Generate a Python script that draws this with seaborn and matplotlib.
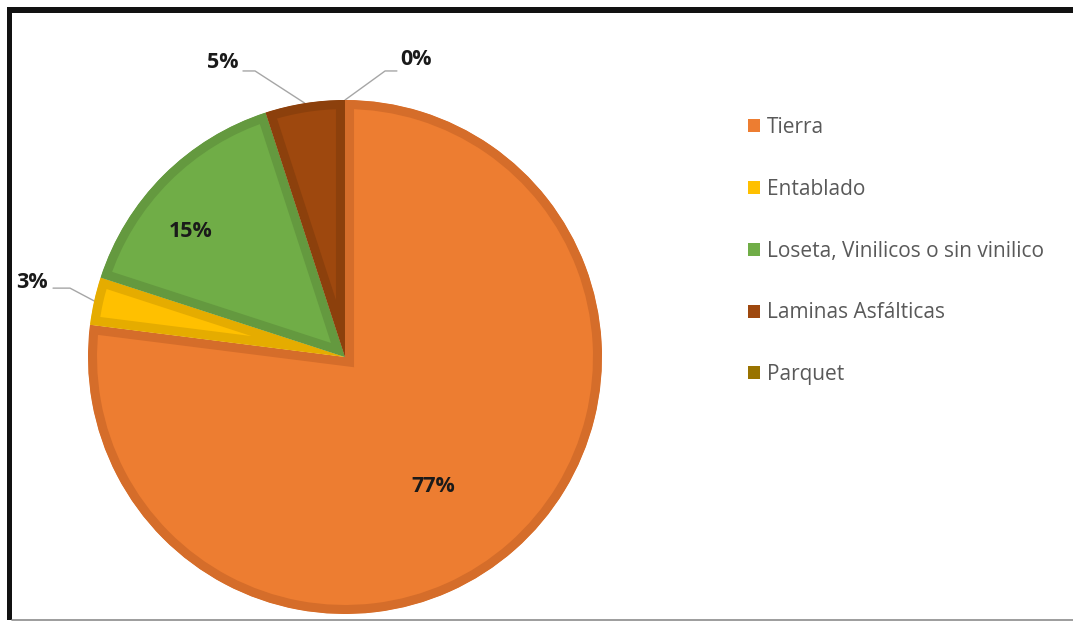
import numpy as np
import matplotlib
matplotlib.use("Agg")
import matplotlib.pyplot as plt
from matplotlib.patches import Patch, Rectangle
from matplotlib.lines import Line2D
import seaborn as sns

# Floor material shares (%)
categories = ["Tierra", "Entablado", "Loseta, Vinilicos o sin vinilico",
              "Laminas Asfálticas", "Parquet"]
shares = [77, 3, 15, 5, 0]

fill_colors = ["#ED7D31", "#FFC000", "#70AD47", "#9E480E", "#997300"]
edge_colors = ["#D56D2A", "#E5AC00", "#64993F", "#8C400C", "#876600"]

# Label placement (data units, pie radius = 1)
inside_pos = {0: (0.342, -0.502), 2: (-0.599, 0.490)}
outside_pos = {1: (-1.218, 0.288), 3: (-0.475, 1.146), 4: (0.276, 1.156)}
elbow_pos = {1: (-1.070, 0.268), 3: (-0.350, 1.113), 4: (0.156, 1.113)}
tail_pos = {1: (-1.136, 0.268), 3: (-0.397, 1.113), 4: (0.202, 1.113)}

sns.set_theme(style="white")
plt.rcParams["font.family"] = ["Open Sans", "DejaVu Sans"]

W, H, DPI = 1073, 621, 100
fig = plt.figure(figsize=(W / DPI, H / DPI), dpi=DPI)
fig.patch.set_facecolor("white")

# Pie axes: centre (345, 357) px, radius 257 px
cx, cy, r = 345, 357, 257
ax = fig.add_axes([(cx - r) / W, (H - cy - r) / H, 2 * r / W, 2 * r / H])

wedges, _ = ax.pie(shares, colors=fill_colors, startangle=90, counterclock=False,
                   radius=1, wedgeprops=dict(linewidth=13, joinstyle="miter"))
for w, ec in zip(wedges, edge_colors):
    w.set_edgecolor(ec)
    w.set_clip_on(True)
    w.set_clip_path(w)  # keep the stroke inside each slice

ax.set_xlim(-1, 1)
ax.set_ylim(-1, 1)
ax.set_aspect("equal")
ax.axis("off")

# Percentage labels
for i, v in enumerate(shares):
    txt = f"{v:.0f}%"
    if i in inside_pos:
        x, y = inside_pos[i]
        ax.text(x, y, txt, ha="center", va="center", fontsize=15.5,
                fontweight="bold", color="#1A1A1A")
    else:
        w = wedges[i]
        mid = np.deg2rad((w.theta1 + w.theta2) / 2)
        px, py = np.cos(mid), np.sin(mid)
        ex, ey = elbow_pos[i]
        tx, ty = tail_pos[i]
        ax.plot([px, ex, tx], [py, ey, ty], color="#A6A6A6",
                lw=1.0, clip_on=False, zorder=0)
        x, y = outside_pos[i]
        ax.text(x, y, txt, ha="center", va="center", fontsize=15.5,
                fontweight="bold", color="#1A1A1A", clip_on=False)

# Legend
handles = [Patch(facecolor=c, edgecolor="none") for c in fill_colors]
fig.legend(handles, categories, loc="upper left",
           bbox_to_anchor=(748 / W, 1 - 117 / H), frameon=False,
           fontsize=15, labelcolor="#595959", handlelength=0.58,
           handleheight=0.58, handletextpad=0.33, labelspacing=1.96,
           borderaxespad=0, borderpad=0)

# Outer frame lines
fig.add_artist(Rectangle((7 / W, 1 - 13 / H), 1 - 7 / W, 6 / H,
                         transform=fig.transFigure, color="#111111", lw=0))
fig.add_artist(Rectangle((7 / W, 1 - 620 / H), 5 / W, 613 / H,
                         transform=fig.transFigure, color="#111111", lw=0))
fig.add_artist(Line2D([12 / W, 1], [1 - 619.5 / H, 1 - 619.5 / H],
                      transform=fig.transFigure, color="#8C8C8C", lw=1.2))

fig.savefig("out.png", dpi=DPI)
